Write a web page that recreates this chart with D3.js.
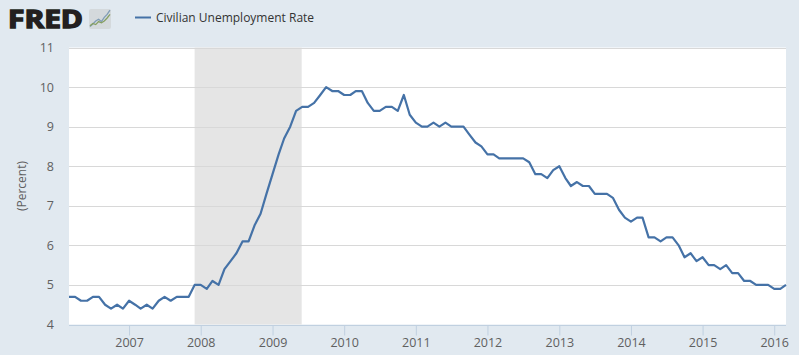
<!DOCTYPE html>
<html><head><meta charset="utf-8">
<script src="https://cdnjs.cloudflare.com/ajax/libs/d3/7.8.5/d3.min.js"></script>
<style>html,body{margin:0;padding:0;background:#e1e9f0}svg{display:block}text{font-family:"Open Sans",sans-serif}</style>
</head><body><svg id="c" width="799" height="355"></svg>
<script>
const seriesName = "Civilian Unemployment Rate";
const yAxisTitle = "(Percent)";
const startMonth = "2006-03-01";
const values = [
4.7,4.7,4.6,4.6,4.7,4.7,4.5,4.4,4.5,4.4,
4.6,4.5,4.4,4.5,4.4,4.6,4.7,4.6,4.7,4.7,4.7,5.0,
5.0,4.9,5.1,5.0,5.4,5.6,5.8,6.1,6.1,6.5,6.8,7.3,
7.8,8.3,8.7,9.0,9.4,9.5,9.5,9.6,9.8,10.0,9.9,9.9,
9.8,9.8,9.9,9.9,9.6,9.4,9.4,9.5,9.5,9.4,9.8,9.3,
9.1,9.0,9.0,9.1,9.0,9.1,9.0,9.0,9.0,8.8,8.6,8.5,
8.3,8.3,8.2,8.2,8.2,8.2,8.2,8.1,7.8,7.8,7.7,7.9,
8.0,7.7,7.5,7.6,7.5,7.5,7.3,7.3,7.3,7.2,6.9,6.7,
6.6,6.7,6.7,6.2,6.2,6.1,6.2,6.2,6.0,5.7,5.8,5.6,
5.7,5.5,5.5,5.4,5.5,5.3,5.3,5.1,5.1,5.0,5.0,5.0,
4.9,4.9,5.0];
const yTicks = [4,5,6,7,8,9,10,11];
const xTickYears = [2007,2008,2009,2010,2011,2012,2013,2014,2015,2016];
const recession = ["2007-12-01","2009-06-01"];
const iconBlue = [1,5,10,13,9,16,21,28];
const iconGreen = [2,6,4,9,7,10,15,21];

const svg = d3.select("#c");
const parse = d3.utcParse("%Y-%m-%d");
const start = parse(startMonth);
const dates = values.map((_,i)=>d3.utcMonth.offset(start,i));
const x = d3.scaleUtc().domain([start,dates[dates.length-1]]).range([69,786]);
const y = d3.scaleLinear().domain([4,11]).range([324.5,47.5]);

svg.append("rect").attr("x",x.range()[0]).attr("y",y(11)).attr("width",x.range()[1]-x.range()[0]).attr("height",y(4)-y(11)).attr("fill","#fff");
svg.append("rect").attr("x",x(parse(recession[0]))).attr("y",y(11))
  .attr("width",x(parse(recession[1]))-x(parse(recession[0]))-0.5).attr("height",y(4)-y(11)).attr("fill","#e5e5e5");
svg.append("g").selectAll("line").data(yTicks.filter(d=>d>4)).join("line")
  .attr("x1",x.range()[0]).attr("x2",x.range()[1]).attr("y1",d=>Math.round(y(d))+.5).attr("y2",d=>Math.round(y(d))+.5)
  .attr("stroke","#d8d8d8").attr("stroke-width",1);
svg.append("g").selectAll("text").data(yTicks).join("text")
  .attr("x",54).attr("y",d=>y(d)+4.5).attr("text-anchor","end").attr("font-size",12.5).attr("fill","#606060").text(d=>d);
const xAxisG = svg.append("g").attr("transform",`translate(0,${Math.round(y(4))+.5})`)
  .call(d3.axisBottom(x).tickValues(xTickYears.map(yr=>new Date(Date.UTC(yr,0,1)))).tickFormat(d3.utcFormat("%Y")).tickSize(10).tickPadding(3));
xAxisG.select(".domain").attr("stroke","#c0d0e0").attr("d",`M${x.range()[0]},0H${x.range()[1]}`);
xAxisG.selectAll(".tick line").attr("stroke","#c0d0e0");
xAxisG.selectAll("text").attr("font-size",12.5).attr("fill","#606060").attr("font-family",'"Open Sans",sans-serif');
svg.append("text").attr("transform","translate(26,186) rotate(-90)").attr("text-anchor","middle")
  .attr("font-size",12).attr("fill","#606060").text(yAxisTitle);
svg.append("path").attr("d",d3.line().x((d,i)=>x(dates[i])).y(d=>y(d))(values))
  .attr("fill","none").attr("stroke","#4572a7").attr("stroke-width",2.2).attr("stroke-linejoin","round");
svg.append("line").attr("x1",135).attr("x2",151).attr("y1",17.5).attr("y2",17.5).attr("stroke","#4572a7").attr("stroke-width",2);
svg.append("text").attr("x",156).attr("y",22).attr("font-size",12).attr("fill","#333").text(seriesName);
svg.append("text").attr("x",8).attr("y",27.5).attr("font-family","'Liberation Sans',sans-serif").attr("font-weight",700)
  .attr("font-size",25).attr("stroke","#231f20").attr("stroke-width",1.4).attr("fill","#231f20").attr("textLength",75).attr("lengthAdjust","spacingAndGlyphs").text("FRED");
svg.append("rect").attr("x",89).attr("y",9).attr("width",22).attr("height",20).attr("rx",2).attr("fill","#d4d9dc");
const ix = d3.scaleLinear().domain([0,7]).range([90,110]);
const iy = d3.scaleLinear().domain([0,30]).range([27,9]);
const il = d3.line().x((d,i)=>ix(i)).y(d=>iy(d));
svg.append("path").attr("d",il(iconBlue)).attr("fill","none").attr("stroke","#7f9cb5").attr("stroke-width",1.3);
svg.append("path").attr("d",il(iconGreen)).attr("fill","none").attr("stroke","#86a063").attr("stroke-width",1.3);
</script></body></html>
